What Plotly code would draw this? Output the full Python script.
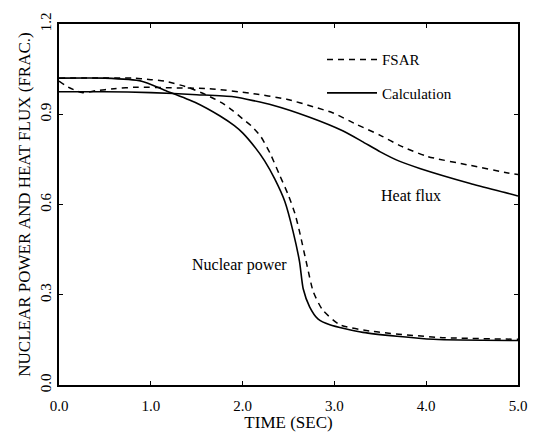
import plotly.graph_objects as go

# Transient response: normalized nuclear power and heat flux vs time
t_np_calc = [0.0, 0.5, 0.9, 1.15, 1.48, 1.75, 1.91, 2.0, 2.13, 2.24, 2.35, 2.46, 2.55, 2.62,
             2.66, 2.73, 2.82, 2.95, 3.31, 4.08, 5.0]
np_calc = [1.02, 1.02, 1.01, 0.98, 0.94, 0.895, 0.862, 0.838, 0.792, 0.745, 0.685, 0.61, 0.51,
           0.41, 0.32, 0.26, 0.22, 0.20, 0.175, 0.152, 0.148]

t_np_fsar = [0.0, 0.8, 1.0, 1.15, 1.4, 1.6, 1.78, 1.89, 2.0, 2.1, 2.2, 2.3, 2.4, 2.5, 2.57,
             2.62, 2.70, 2.77, 2.87, 3.06, 3.42, 4.15, 5.0]
np_fsar = [1.02, 1.02, 1.015, 1.01, 0.99, 0.965, 0.937, 0.913, 0.885, 0.86, 0.825, 0.77,
           0.70, 0.63, 0.57, 0.51, 0.40, 0.31, 0.25, 0.20, 0.178, 0.158, 0.152]

t_hf_calc = [0.0, 0.5, 1.0, 1.5, 1.9, 2.33, 2.73, 3.09, 3.3, 3.5, 3.7, 3.93, 4.48, 4.92, 5.0]
hf_calc = [0.975, 0.975, 0.972, 0.965, 0.958, 0.93, 0.89, 0.845, 0.81, 0.775, 0.745, 0.72,
           0.67, 0.635, 0.628]

t_hf_fsar = [0.0, 0.1, 0.25, 0.4, 0.6, 0.85, 1.2, 1.64, 2.08, 2.48, 2.77, 2.98, 3.25, 3.5,
             3.72, 4.01, 4.48, 4.89, 5.0]
hf_fsar = [1.01, 0.99, 0.972, 0.978, 0.985, 0.99, 0.988, 0.985, 0.97, 0.95, 0.925, 0.905,
           0.865, 0.83, 0.795, 0.76, 0.73, 0.705, 0.70]

x_ticks = [0, 1, 2, 3, 4, 5]
x_tick_text = ["0.0", "1.0", "2.0", "3.0", "4.0", "5.0"]
y_ticks = [0.0, 0.3, 0.6, 0.9, 1.2]
y_tick_text = ["0.0", "0.3", "0.6", "0.9", "1.2"]

FONT = "Liberation Serif"
dash_style = "6px,5px"


def curve(x, y, name, dashed, show):
    return go.Scatter(
        x=x, y=y, mode="lines", name=name,
        legendgroup=name, showlegend=show,
        line=dict(color="black", width=1.5 if dashed else 1.6,
                  dash=dash_style if dashed else "solid",
                  shape="spline", smoothing=0.6),
    )


fig = go.Figure()
fig.add_trace(curve(t_np_fsar, np_fsar, "FSAR", True, True))
fig.add_trace(curve(t_hf_fsar, hf_fsar, "FSAR", True, False))
fig.add_trace(curve(t_np_calc, np_calc, "Calculation", False, True))
fig.add_trace(curve(t_hf_calc, hf_calc, "Calculation", False, False))

fig.add_annotation(x=3.83, y=0.63, text="Heat flux", showarrow=False,
                   font=dict(family=FONT, size=16, color="black"))
fig.add_annotation(x=1.97, y=0.40, text="Nuclear power", showarrow=False,
                   font=dict(family=FONT, size=16, color="black"))

axis_common = dict(showline=True, linecolor="black", linewidth=1.5, mirror="ticks",
                   ticks="inside", ticklen=4, tickcolor="black", showgrid=False,
                   zeroline=False,
                   tickfont=dict(family=FONT, size=15, color="black"))

fig.update_xaxes(range=[0, 5], tickvals=x_ticks, ticktext=x_tick_text,
                 ticklabelstandoff=6, automargin=False,
                 title=dict(text="TIME (SEC)", font=dict(family=FONT, size=17, color="black")),
                 **axis_common)
fig.update_yaxes(range=[0, 1.2], tickvals=y_ticks, ticktext=y_tick_text, tickangle=-90,
                 automargin=True,
                 title=dict(text="NUCLEAR POWER AND HEAT FLUX (FRAC.)",
                            font=dict(family=FONT, size=17, color="black"), standoff=3),
                 **axis_common)

fig.update_layout(
    width=534, height=432,
    margin=dict(l=59, r=16, t=21, b=47),
    paper_bgcolor="white", plot_bgcolor="white",
    showlegend=True,
    legend=dict(x=0.573, y=0.947, xanchor="left", yanchor="top",
                bgcolor="rgba(0,0,0,0)", traceorder="grouped", tracegroupgap=11,
                itemwidth=50,
                font=dict(family=FONT, size=15, color="black")),
)

fig.write_html("out.html")
